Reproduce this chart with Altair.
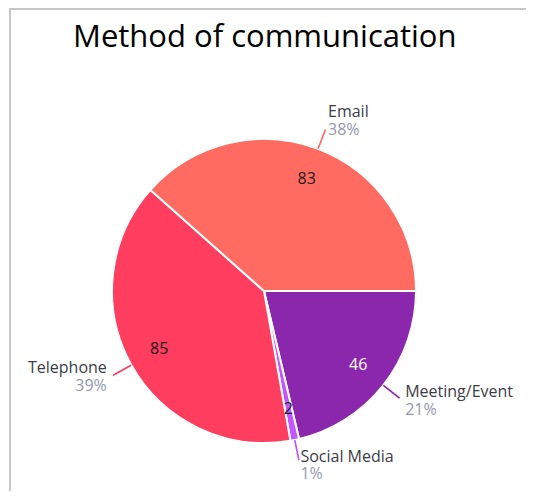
import math
import altair as alt
import pandas as pd

# ---- data ----
categories = ["Meeting/Event", "Social Media", "Telephone", "Email"]
values = [46, 2, 85, 83]
colors = ["#8B27AD", "#C257FF", "#FF3D5F", "#FF6B61"]
value_text_colors = ["#ffffff", "#1a1a1a", "#1a1a1a", "#1a1a1a"]
title_text = "Method of communication"

total = sum(values)
df = pd.DataFrame({
    "category": categories,
    "value": values,
    "order": list(range(len(categories))),
    "tcolor": value_text_colors,
})

CX, CY = 256, 233
R = 152
FONT = "Open Sans"

theta_scale = alt.Scale(domain=[0, total], range=[math.pi / 2, math.pi / 2 + 2 * math.pi])
color_scale = alt.Scale(domain=categories, range=colors)

base = alt.Chart(df).transform_window(
    cum="sum(value)", sort=[alt.SortField("order")]
).transform_joinaggregate(
    total="sum(value)"
).transform_calculate(
    start="datum.cum - datum.value",
    mid="datum.cum - datum.value / 2",
    lo="datum.cum - datum.value / 2 - 0.01",
    hi="datum.cum - datum.value / 2 + 0.01",
    pct="format(datum.value / datum.total, '.0%')",
    ang="(90 + datum.mid / datum.total * 360) % 360",
)

pos = dict(x=alt.value(CX), y=alt.value(CY))

slices = base.mark_arc(outerRadius=R, stroke="white", strokeWidth=2).encode(
    theta=alt.Theta("start:Q", stack=False, scale=theta_scale),
    theta2="cum:Q",
    color=alt.Color("category:N", scale=color_scale, legend=None),
    **pos,
)

leaders = base.mark_arc(innerRadius=R + 1, outerRadius=R + 20, strokeWidth=1.6).encode(
    theta=alt.Theta("lo:Q", stack=False, scale=theta_scale),
    theta2="hi:Q",
    color=alt.Color("category:N", scale=color_scale, legend=None),
    stroke=alt.Stroke("category:N", scale=color_scale, legend=None),
    **pos,
)

values_txt = base.mark_text(radius=120, fontSize=16, font=FONT, baseline="middle", align="center").encode(
    theta=alt.Theta("mid:Q", stack=False, scale=theta_scale),
    text="value:Q",
    color=alt.Color("tcolor:N", scale=None),
    **pos,
)

def side_labels(side_filter, align):
    sub = base.transform_filter(side_filter)
    name = sub.mark_text(radius=180, fontSize=16, font=FONT, align=align,
                         baseline="alphabetic", dy=-5.5, color="#3c3c46").encode(
        theta=alt.Theta("mid:Q", stack=False, scale=theta_scale),
        text="category:N",
        **pos,
    )
    pct = sub.mark_text(radius=180, fontSize=16, font=FONT, align=align,
                        baseline="alphabetic", dy=12, color="#9397b3").encode(
        theta=alt.Theta("mid:Q", stack=False, scale=theta_scale),
        text="pct:N",
        **pos,
    )
    return [name, pct]

right_labels = side_labels("datum.ang <= 180", "left")
left_labels = side_labels("datum.ang > 180", "right")

frame_df = pd.DataFrame({"a": [0]})
border_left = alt.Chart(frame_df).mark_rule(color="#c8c8c8", strokeWidth=2).encode(
    x=alt.value(2), y=alt.value(-49), y2=alt.value(433)
)
border_top = alt.Chart(frame_df).mark_rule(color="#c8c8c8", strokeWidth=2).encode(
    x=alt.value(1), x2=alt.value(518), y=alt.value(-49)
)

chart = alt.layer(
    border_left, border_top, slices, leaders, values_txt, *right_labels, *left_labels
).properties(
    width=518,
    height=433,
    padding={"left": 0, "top": 50, "right": 0, "bottom": 0},
    autosize=alt.AutoSizeParams(type="none"),
    title=alt.TitleParams(
        title_text, anchor="start", dx=65, dy=70, font=FONT, fontSize=31,
        fontWeight="normal", color="#000000", baseline="alphabetic",
        offset=0, frame="group",
    ),
).configure_view(stroke=None)

chart.save("out.html", embed_options={"renderer": "svg", "actions": False})
